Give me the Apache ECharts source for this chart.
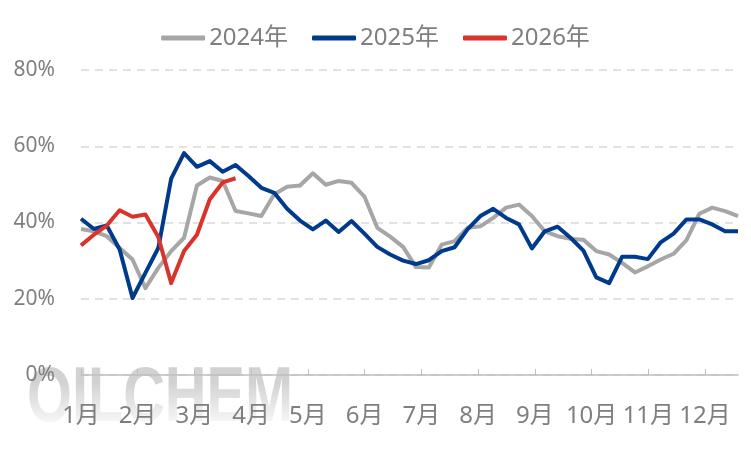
<!DOCTYPE html>
<html>
<head>
<meta charset="utf-8">
<script src="https://cdn.jsdelivr.net/npm/echarts@6/dist/echarts.min.js"></script>
<style>html,body{margin:0;padding:0;background:#fff;}#c{width:751px;height:450px;}</style>
</head>
<body>
<div id="c"></div>
<script>
const weeks = ['1','2','3','4','5','6','7','8','9','10','11','12','13','14','15','16','17','18','19','20','21','22','23','24','25','26','27','28','29','30','31','32','33','34','35','36','37','38','39','40','41','42','43','44','45','46','47','48','49','50','51','52'];
const monthLabels = ['1月','2月','3月','4月','5月','6月','7月','8月','9月','10月','11月','12月'];
const seriesNames = ['2024年','2025年','2026年'];
const y2024 = [38.3,37.7,36.4,33.3,30.3,22.8,28.1,32.5,36.0,49.7,51.8,50.9,43.0,42.4,41.7,47.4,49.4,49.7,52.9,49.9,50.9,50.4,46.8,38.6,36.3,33.6,28.3,28.2,34.2,35.1,38.6,39.0,41.2,43.9,44.7,41.7,37.7,36.4,35.7,35.5,32.5,31.6,29.4,26.9,28.5,30.3,31.8,35.4,42.3,43.9,43.0,41.7];
const y2025 = [41.0,38.3,39.2,32.9,20.2,26.8,33.3,51.5,58.2,54.6,56.1,53.3,55.1,52.2,49.1,47.8,43.6,40.5,38.2,40.5,37.5,40.4,37.1,33.6,31.6,30.0,29.1,30.1,32.5,33.5,38.2,41.7,43.6,41.2,39.5,33.2,37.7,38.9,36.0,32.6,25.6,24.1,31.0,31.0,30.4,34.8,37.1,40.8,40.8,39.5,37.7,37.7];
const y2026 = [34.0,36.8,39.2,43.2,41.5,42.1,36.2,24.1,32.5,36.8,46.1,50.5,51.6];
const colors = ['#a6a6a6','#003a8c','#d9342b'];

const chart = echarts.init(document.getElementById('c'));
const txt = '#7f7f7f';
const ff = '"Noto Sans","Noto Sans CJK SC",sans-serif';
chart.setOption({
  animation: false,
  color: colors,
  legend: {
    top: 21, left: 'center',
    icon: 'roundRect', itemWidth: 44, itemHeight: 5, itemGap: 24,
    textStyle: {fontSize: 24, color: txt, fontFamily: ff, padding: [0,0,0,-1]},
    data: seriesNames
  },
  grid: {left: 81, right: 13, top: 70, bottom: 75, containLabel: false},
  graphic: [{
    type: 'text', left: 27, top: 360, z: -10, scaleX: 0.74, silent: true,
    style: {
      text: 'OILCHEM',
      font: 'bold 78px "Liberation Sans", Arial, sans-serif',
      fill: '#d2d2d2'
    }
  }, {
    type: 'rect', left: 20, top: 382, z: -9, silent: true,
    shape: {width: 280, height: 50},
    style: {
      fill: new echarts.graphic.LinearGradient(0, 0, 0, 1, [
        {offset: 0, color: 'rgba(255,255,255,0)'},
        {offset: 1, color: 'rgba(255,255,255,1)'}
      ])
    }
  }],
  xAxis: [
    {type: 'category', data: weeks, boundaryGap: false, show: false},
    {type: 'value', min: 0, max: 11.58, interval: 1, position: 'bottom',
     axisLine: {show: true, lineStyle: {color: '#bfbfbf', width: 1.5}},
     axisTick: {show: true, inside: true, length: 6, lineStyle: {color: '#bfbfbf', width: 1}},
     axisLabel: {
       fontSize: 24, color: txt, fontFamily: ff, margin: 29,
       formatter: v => (Math.abs(v - Math.round(v)) < 1e-6 && monthLabels[Math.round(v)]) ? monthLabels[Math.round(v)] : '',
       showMaxLabel: false
     },
     splitLine: {show: false}
    }
  ],
  yAxis: {
    type: 'value', min: 0, max: 80, interval: 20,
    axisLine: {show: false}, axisTick: {show: false},
    axisLabel: {formatter: '{value}%', fontSize: 21, color: txt, fontFamily: ff, margin: 26},
    splitLine: {show: true, lineStyle: {color: '#d9d9d9', width: 1.5, type: [8,6]}}
  },
  series: seriesNames.map((n, i) => ({
    name: n, type: 'line', xAxisIndex: 0,
    data: [y2024, y2025, y2026][i],
    symbol: 'none', smooth: false,
    lineStyle: {width: 4, color: colors[i], join: 'round'},
    itemStyle: {color: colors[i]}
  }))
});
</script>
</body>
</html>
